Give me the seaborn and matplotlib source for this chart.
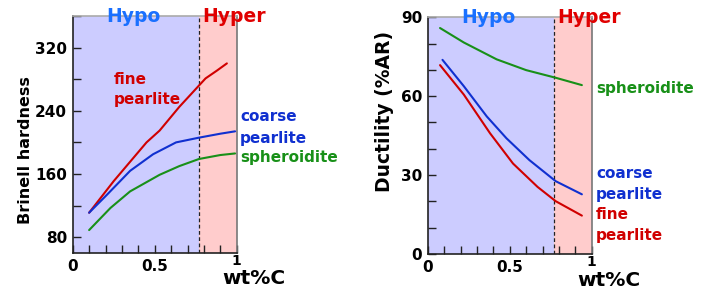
import matplotlib
matplotlib.use('Agg')
import matplotlib.pyplot as plt
from matplotlib.ticker import MultipleLocator
import seaborn as sns
import pandas as pd

sns.set_theme(style="white")
plt.rcParams['font.family'] = ['DejaVu Sans']
plt.rcParams['text.color'] = 'black'
plt.rcParams['axes.labelcolor'] = 'black'
plt.rcParams['xtick.color'] = 'black'
plt.rcParams['ytick.color'] = 'black'

# hardness vs wt%C
hard_fine_x = [0.10, 0.25, 0.45, 0.53, 0.65, 0.77, 0.81, 0.88, 0.94]
hard_fine_y = [111, 151, 200, 215, 245, 272, 281, 291, 300]
hard_coarse_x = [0.10, 0.21, 0.35, 0.49, 0.63, 0.77, 0.90, 0.99]
hard_coarse_y = [111, 134, 164, 185, 200, 206, 211, 214]
hard_sph_x = [0.10, 0.23, 0.35, 0.53, 0.65, 0.77, 0.90, 0.99]
hard_sph_y = [89, 117, 138, 159, 170, 179, 184, 186]

# ductility vs wt%C
duct_sph_x = [0.075, 0.22, 0.42, 0.60, 0.78, 0.94]
duct_sph_y = [85.9, 80.4, 74.0, 69.9, 67.0, 64.2]
duct_coarse_x = [0.09, 0.22, 0.36, 0.48, 0.62, 0.78, 0.94]
duct_coarse_y = [73.8, 63.8, 52.3, 44.0, 35.7, 27.7, 22.7]
duct_fine_x = [0.075, 0.22, 0.38, 0.52, 0.67, 0.78, 0.94]
duct_fine_y = [71.8, 60.6, 45.9, 34.4, 25.5, 20.1, 14.6]

eutectoid = 0.77
palette = {'fine': '#d00000', 'coarse': '#1030d0', 'sph': '#189018'}


def frame(parts):
    rows = []
    for name, xs, ys in parts:
        for x, y in zip(xs, ys):
            rows.append({'curve': name, 'wt': x, 'val': y})
    return pd.DataFrame(rows)


def style_axes(ax, ylim, major, minor):
    ax.axvspan(0, eutectoid, color='#ccccff', zorder=0, lw=0)
    ax.axvspan(eutectoid, 1, color='#ffcccc', zorder=0, lw=0)
    ax.axvline(eutectoid, color='#222222', ls=(0, (3, 2)), lw=0.9, zorder=1)
    ax.set_xlim(0, 1)
    ax.set_ylim(*ylim)
    ax.set_xticks([0, 0.5, 1])
    ax.set_xticklabels(['0', '0.5', ''])
    ax.xaxis.set_minor_locator(MultipleLocator(0.1))
    ax.yaxis.set_major_locator(MultipleLocator(major))
    ax.yaxis.set_minor_locator(MultipleLocator(minor))
    ax.tick_params(which='both', direction='in', length=6, width=1, color='#222222',
                   labelsize=11, pad=4, bottom=True, left=True, top=False, right=False)
    for lab in ax.get_xticklabels() + ax.get_yticklabels():
        lab.set_fontweight('bold')
    ax.spines['left'].set_color('#222222')
    ax.spines['bottom'].set_color('#222222')
    ax.spines['top'].set_color('#aaaaaa')
    ax.spines['right'].set_color('#777777')
    for s in ax.spines.values():
        s.set_linewidth(1.2)
    ax.set_xlabel('')
    # the "1" sits a little higher, right above wt%C
    ax.text(1.0, -0.006, '1', fontsize=10, fontweight='bold', ha='center', va='top',
            transform=ax.transAxes, clip_on=False)
    ax.text(0.367, 1.0, 'Hypo', color='#1a70ff', fontsize=13.5, fontweight='bold',
            ha='center', va='center', transform=ax.transAxes, clip_on=False)
    ax.text(0.985, 1.0, 'Hyper', color='#e00000', fontsize=13.5, fontweight='bold',
            ha='center', va='center', transform=ax.transAxes, clip_on=False)


fig = plt.figure(figsize=(7.02, 2.92), dpi=100)
ax1 = fig.add_axes([0.1036, 0.1336, 0.2336, 0.8116])
ax2 = fig.add_axes([0.6093, 0.1300, 0.2336, 0.8110])

df1 = frame([('fine', hard_fine_x, hard_fine_y),
             ('coarse', hard_coarse_x, hard_coarse_y),
             ('sph', hard_sph_x, hard_sph_y)])
sns.lineplot(data=df1, x='wt', y='val', hue='curve', palette=palette, sort=False,
             estimator=None, lw=1.5, legend=False, ax=ax1, zorder=3)
style_axes(ax1, (60, 360), 80, 40)
ax1.set_ylabel('Brinell hardness', fontsize=11.5, fontweight='bold')
ax1.yaxis.set_label_coords(-0.245, 0.435)

df2 = frame([('sph', duct_sph_x, duct_sph_y),
             ('coarse', duct_coarse_x, duct_coarse_y),
             ('fine', duct_fine_x, duct_fine_y)])
sns.lineplot(data=df2, x='wt', y='val', hue='curve', palette=palette, sort=False,
             estimator=None, lw=1.5, legend=False, ax=ax2, zorder=3)
style_axes(ax2, (0, 90), 30, 10)
ax2.set_ylabel('Ductility (%AR)', fontsize=13.5, fontweight='bold')
ax2.yaxis.set_label_coords(-0.205, 0.603)

lab = dict(fontsize=11, fontweight='bold', ha='left', va='center', clip_on=False)
ax1.text(0.248, 0.730, 'fine', color=palette['fine'], transform=ax1.transAxes, **lab)
ax1.text(0.248, 0.646, 'pearlite', color=palette['fine'], transform=ax1.transAxes, **lab)
ax1.text(1.02, 0.574, 'coarse', color=palette['coarse'], transform=ax1.transAxes, **lab)
ax1.text(1.02, 0.485, 'pearlite', color=palette['coarse'], transform=ax1.transAxes, **lab)
ax1.text(1.02, 0.405, 'spheroidite', color=palette['sph'], transform=ax1.transAxes, **lab)

ax2.text(1.026, 0.701, 'spheroidite', color=palette['sph'], transform=ax2.transAxes, **lab)
ax2.text(1.026, 0.342, 'coarse', color=palette['coarse'], transform=ax2.transAxes, **lab)
ax2.text(1.026, 0.253, 'pearlite', color=palette['coarse'], transform=ax2.transAxes, **lab)
ax2.text(1.026, 0.169, 'fine', color=palette['fine'], transform=ax2.transAxes, **lab)
ax2.text(1.026, 0.080, 'pearlite', color=palette['fine'], transform=ax2.transAxes, **lab)

fig.text(254 / 702, 1 - 279 / 292, 'wt%C', fontsize=14.5, fontweight='bold', ha='center', va='center')
fig.text(609 / 702, 1 - 281 / 292, 'wt%C', fontsize=14.5, fontweight='bold', ha='center', va='center')

plt.savefig('out.png', dpi=100)
plt.close('all')
